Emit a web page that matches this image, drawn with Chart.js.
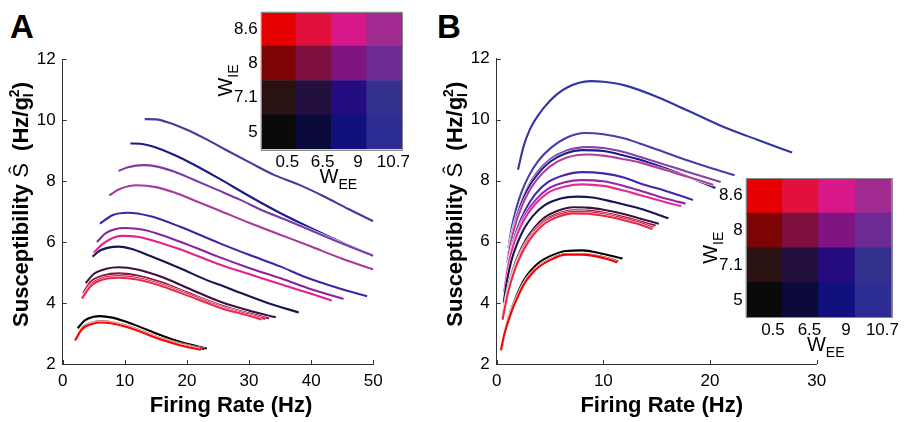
<!DOCTYPE html>
<html>
<head>
<meta charset="utf-8">
<script src="https://cdn.jsdelivr.net/npm/chart.js@4.4.1/dist/chart.umd.min.js"></script>
<style>
  body { margin: 0; background: #fff; width: 907px; height: 422px; position: relative; overflow: hidden;
         font-family: "Liberation Sans", Arial, sans-serif; }
  canvas { position: absolute; }
  .panel { position: absolute; font-weight: bold; font-size: 33px; line-height: 1; }
</style>
</head>
<body>
<div class="panel" style="left:10px;top:10px">A</div>
<div class="panel" style="left:437px;top:10px">B</div>
<canvas id="mainA" width="440" height="422" style="left:0;top:0"></canvas>
<canvas id="mainB" width="467" height="422" style="left:440px;top:0"></canvas>
<canvas id="insetA" width="222" height="205" style="left:200px;top:0"></canvas>
<canvas id="insetB" width="221" height="200" style="left:686px;top:167px"></canvas>
<script>
// ---- panel A : firing rate (Hz) vs susceptibility
const rateA = [
  [13.2, 15, 17, 20, 23, 26, 30, 34, 38, 42, 46, 50],
  [10.9, 12.5, 15, 18, 21, 25, 30.5, 35, 40, 45, 50],
  [9, 10.5, 13, 15, 18, 21, 25, 28.6, 32, 36, 40, 45, 50],
  [7.5, 9, 12, 15, 18, 21, 25, 30, 35, 40, 45, 50],
  [6.0, 8, 10.5, 14, 18.9, 25, 30, 35, 38.8, 45, 49],
  [5.5, 7, 10, 13, 18.9, 25, 30, 35.1, 40, 45.2],
  [5.0, 6.5, 9.5, 12, 15, 18.9, 25, 30, 35, 40, 43.3],
  [4.8, 6, 9, 11, 14, 18.9, 23.2, 25.4, 28, 33, 38],
  [3.7, 5, 7, 9, 12, 16, 20, 25.4, 30, 34.3],
  [3.3, 4.5, 6.5, 9, 12, 16, 20, 25.4, 30, 33.2],
  [3.2, 4.5, 6.5, 9, 12, 16, 20, 25.4, 30, 32.6],
  [3.1, 4.5, 6.5, 9, 12, 16, 20, 25.4, 30, 32],
  [2.4, 3.5, 5, 6, 8, 10, 12, 15.7, 19, 23.2],
  [2.1, 3.2, 4.8, 6.2, 8, 10, 12, 15.7, 19, 22.8],
  [2.0, 3.2, 4.8, 6.3, 8, 10, 12, 15.7, 19, 22.3],
  [2.0, 3.1, 4.7, 6.3, 8, 10, 12, 15.7, 19, 22.1]
];
const suscA = [
  [10.03, 10.02, 9.92, 9.68, 9.38, 9.05, 8.62, 8.2, 7.88, 7.5, 7.08, 6.68],
  [9.23, 9.22, 9.1, 8.85, 8.55, 8.1, 7.45, 6.95, 6.45, 5.98, 5.55],
  [8.33, 8.45, 8.52, 8.48, 8.3, 8.05, 7.7, 7.38, 7.05, 6.72, 6.38, 5.95, 5.55],
  [7.53, 7.72, 7.86, 7.8, 7.62, 7.38, 7.05, 6.63, 6.24, 5.85, 5.45, 5.1],
  [6.6, 6.88, 6.96, 6.85, 6.5, 5.98, 5.58, 5.2, 4.87, 4.45, 4.22],
  [6.0, 6.3, 6.46, 6.4, 6.01, 5.52, 5.15, 4.81, 4.45, 4.13],
  [5.65, 5.95, 6.2, 6.17, 6.02, 5.76, 5.28, 4.95, 4.62, 4.3, 4.08],
  [5.52, 5.72, 5.85, 5.78, 5.55, 5.14, 4.75, 4.59, 4.38, 4.0, 3.69],
  [4.65, 4.95, 5.12, 5.17, 5.1, 4.85, 4.5, 4.04, 3.75, 3.53],
  [4.32, 4.7, 4.9, 4.97, 4.9, 4.67, 4.35, 3.93, 3.66, 3.5],
  [4.2, 4.6, 4.82, 4.88, 4.82, 4.6, 4.3, 3.88, 3.62, 3.48],
  [4.15, 4.55, 4.77, 4.83, 4.77, 4.55, 4.25, 3.84, 3.58, 3.46],
  [3.17, 3.42, 3.55, 3.57, 3.52, 3.4, 3.25, 2.95, 2.72, 2.51],
  [2.85, 3.2, 3.36, 3.4, 3.37, 3.27, 3.14, 2.85, 2.66, 2.49],
  [2.8, 3.17, 3.34, 3.38, 3.35, 3.25, 3.12, 2.83, 2.63, 2.48],
  [2.77, 3.14, 3.31, 3.36, 3.33, 3.23, 3.1, 2.81, 2.61, 2.47]
];
const colorA = ["#4838a0", "#1c1a8a", "#7a3aa8", "#a8389a", "#4422a8", "#8a22a0", "#e8208c", "#161650",
                "#40103c", "#8a1840", "#d81850", "#ee2a48", "#000000", "#5a0808", "#c00000", "#ff0000"];

// ---- panel B
const rateB = [
  [2.0, 2.5, 3.1, 3.8, 5, 6.6, 8.8, 10, 12, 15, 18, 21, 24.5, 27.7],
  [1.1, 1.4, 1.8, 2.3, 3, 3.9, 5, 6.5, 8.3, 10, 12, 13.4, 16, 18, 20, 22.3],
  [1.0, 1.3, 1.7, 2.2, 2.9, 3.8, 5, 6.5, 8.5, 10, 12, 13.4, 16, 18, 21],
  [1.0, 1.3, 1.7, 2.2, 2.9, 3.8, 5, 6.5, 8, 10, 12, 13.4, 16, 18, 20.5],
  [1.0, 1.3, 1.7, 2.2, 2.9, 3.8, 5, 6.5, 8.5, 10, 12, 13.4, 16, 18, 20.3],
  [0.8, 1.1, 1.5, 2.0, 2.7, 3.6, 4.8, 6.3, 8, 10, 12, 13.4, 16, 18.4],
  [0.75, 1.05, 1.45, 2.0, 2.7, 3.6, 4.8, 6.3, 8, 10, 12, 13.4, 16, 17.7],
  [0.7, 1.0, 1.4, 1.95, 2.7, 3.6, 4.8, 6.3, 8, 10, 12, 13.4, 16, 17.3],
  [0.65, 0.95, 1.35, 1.9, 2.6, 3.4, 4.5, 6, 7.5, 9, 11, 13.4, 16.1],
  [0.55, 0.8, 1.1, 1.5, 2, 2.7, 3.5, 4.5, 5.6, 7.2, 8.5, 10, 12, 13.4, 15.2],
  [0.55, 0.8, 1.1, 1.5, 2, 2.7, 3.5, 4.5, 5.6, 7.2, 8.5, 10, 12, 13.4, 14.9],
  [0.55, 0.8, 1.1, 1.5, 2, 2.7, 3.5, 4.5, 5.6, 7.2, 8.5, 10, 12, 13.4, 14.7],
  [0.55, 0.8, 1.1, 1.5, 2, 2.7, 3.5, 4.5, 5.6, 7.2, 8.5, 10, 12, 13.4, 14.6],
  [0.55, 0.8, 1.0, 1.25, 1.6, 2.0, 2.5, 3.2, 4, 5, 6.5, 8, 10, 11.8],
  [0.45, 0.7, 0.95, 1.2, 1.55, 2.0, 2.5, 3.2, 4, 5, 6.5, 8, 10, 11.4],
  [0.4, 0.65, 0.9, 1.2, 1.55, 2.0, 2.5, 3.2, 4, 5, 6.5, 8, 10, 11.3]
];
const suscB = [
  [8.36, 9.1, 9.67, 10.1, 10.62, 11.05, 11.26, 11.24, 11.12, 10.75, 10.28, 9.8, 9.33, 8.92],
  [5.8, 6.45, 7.05, 7.6, 8.15, 8.65, 9.05, 9.4, 9.56, 9.52, 9.38, 9.22, 8.9, 8.65, 8.42, 8.18],
  [5.4, 6.05, 6.65, 7.2, 7.78, 8.28, 8.7, 8.98, 9.1, 9.07, 8.93, 8.78, 8.5, 8.28, 7.96],
  [5.35, 6.0, 6.6, 7.15, 7.72, 8.2, 8.62, 8.9, 9.0, 8.97, 8.82, 8.69, 8.38, 8.12, 7.76],
  [5.3, 5.92, 6.5, 7.03, 7.57, 8.05, 8.47, 8.75, 8.86, 8.82, 8.7, 8.6, 8.33, 8.12, 7.86],
  [4.6, 5.3, 5.95, 6.5, 7.05, 7.55, 7.95, 8.18, 8.28, 8.24, 8.1, 7.92, 7.65, 7.37],
  [4.45, 5.15, 5.8, 6.37, 6.9, 7.35, 7.73, 7.94, 8.02, 7.98, 7.82, 7.68, 7.4, 7.25],
  [4.35, 5.05, 5.7, 6.27, 6.8, 7.23, 7.6, 7.8, 7.88, 7.83, 7.67, 7.53, 7.28, 7.17],
  [4.0, 4.7, 5.35, 5.92, 6.45, 6.85, 7.2, 7.42, 7.48, 7.45, 7.3, 7.09, 6.77],
  [3.55, 4.05, 4.55, 5.07, 5.55, 6.05, 6.45, 6.8, 7.0, 7.13, 7.12, 7.05, 6.9, 6.76, 6.59],
  [3.5, 3.98, 4.47, 4.98, 5.45, 5.95, 6.35, 6.7, 6.9, 7.03, 7.02, 6.95, 6.8, 6.67, 6.53],
  [3.47, 3.94, 4.42, 4.92, 5.4, 5.9, 6.3, 6.65, 6.85, 6.98, 6.97, 6.9, 6.75, 6.62, 6.47],
  [3.45, 3.91, 4.39, 4.88, 5.36, 5.85, 6.25, 6.6, 6.8, 6.93, 6.92, 6.85, 6.7, 6.57, 6.42],
  [2.68, 3.1, 3.38, 3.66, 4.0, 4.35, 4.72, 5.06, 5.33, 5.53, 5.7, 5.72, 5.6, 5.45],
  [2.5, 2.95, 3.28, 3.55, 3.9, 4.26, 4.62, 4.96, 5.22, 5.43, 5.6, 5.6, 5.5, 5.36],
  [2.45, 2.88, 3.2, 3.52, 3.86, 4.22, 4.58, 4.92, 5.19, 5.4, 5.58, 5.58, 5.47, 5.33]
];
const colorB = ["#3434a4", "#4a3caa", "#8442aa", "#1c1c8c", "#b23e9a", "#4626aa", "#9228a8", "#e82a92",
                "#161652", "#3c1038", "#8c1a44", "#d81a4c", "#f0243c", "#000000", "#7a0000", "#f00000"];

// ---- inset colour key (rows: W_IE bottom to top, columns: W_EE)
const weeTicks = ["0.5", "6.5", "9", "10.7"];
const wieTicks = ["5", "7.1", "8", "8.6"];
const cellColors = [
  ["#0a0a0a", "#0c0a3a", "#12107e", "#2c2c92"],
  ["#2a1212", "#24103e", "#240c80", "#34308e"],
  ["#7c0404", "#7e1040", "#801480", "#6c2a92"],
  ["#e60000", "#e2103c", "#d8188a", "#a02a90"]
];

const FAM = "'Liberation Sans', Arial, sans-serif";
const tickFont = { family: FAM, size: 17 };

// white halo under each curve; dataset 0 is drawn last, so list the curves back to front
function curveSets(rates, sus, colors) {
  const sets = [];
  for (let i = rates.length - 1; i >= 0; i--) {
    const pts = rates[i].map((x, j) => ({ x: x, y: sus[i][j] }));
    const base = { data: pts, pointRadius: 0, fill: false, cubicInterpolationMode: "monotone" };
    sets.push(Object.assign({ borderColor: colors[i], borderWidth: 2.1 }, base));
    sets.push(Object.assign({ borderColor: "#ffffff", borderWidth: 3.0 }, base));
  }
  return sets;
}

// draw a run of text pieces; pieces can carry sub / sup
function richText(ctx, pieces, x0, y0, rotate, center) {
  ctx.save();
  ctx.translate(x0, y0);
  if (rotate) ctx.rotate(-Math.PI / 2);
  ctx.fillStyle = "#000";
  ctx.textBaseline = "alphabetic";
  ctx.textAlign = "left";
  let total = 0;
  pieces.forEach(p => {
    ctx.font = p.font;
    p.w = Math.max(ctx.measureText(p.t || "").width, p.sup ? ctx.measureText(p.sup).width : 0);
    total += p.w;
  });
  let cx = center ? -total / 2 : 0;
  pieces.forEach(p => {
    ctx.font = p.font;
    if (p.t) ctx.fillText(p.t, cx, p.dy || 0);
    if (p.sup) ctx.fillText(p.sup, cx, p.supDy);
    cx += p.w;
  });
  ctx.restore();
}

const mainDecor = {
  id: "mainDecor",
  afterDraw(chart, args, o) {
    const { ctx, chartArea: a, scales: { x, y } } = chart;
    ctx.save();
    ctx.strokeStyle = "#333";
    ctx.lineWidth = 1;
    ctx.beginPath();
    x.ticks.forEach(t => {
      const px = Math.round(x.getPixelForValue(t.value)) + 0.5;
      ctx.moveTo(px, a.bottom); ctx.lineTo(px, a.bottom - 4);
    });
    y.ticks.forEach(t => {
      const py = Math.round(y.getPixelForValue(t.value)) + 0.5;
      ctx.moveTo(a.left, py); ctx.lineTo(a.left + 4, py);
    });
    ctx.stroke();
    ctx.restore();
    const big = "bold 22px " + FAM, small = "bold 14px " + FAM;
    richText(ctx, [{ t: "Firing Rate (Hz)", font: big }], (a.left + a.right) / 2 + o.xDx, 412, false, true);
    richText(ctx, [
      { t: "Susceptibility ", font: big },
      { t: "\u015C", font: "22px " + FAM },
      { t: "  (Hz/g", font: big },
      { t: "I", font: small, dy: 5, sup: "2", supDy: -9 },
      { t: ")", font: big }
    ], a.left - 34.7, (a.top + a.bottom) / 2 - 7, true, true);
  }
};

function mainChart(id, rates, sus, colors, xMax, area, xDx) {
  const cv = document.getElementById(id);
  return new Chart(cv, {
    type: "line",
    data: { datasets: curveSets(rates, sus, colors) },
    options: {
      responsive: false,
      animation: false,
      devicePixelRatio: 1,
      layout: { padding: { left: 0, top: area.top, right: cv.width - area.right, bottom: 0 } },
      plugins: { legend: { display: false }, tooltip: { enabled: false }, mainDecor: { xDx: xDx } },
      scales: {
        x: {
          type: "linear", min: 0, max: xMax,
          ticks: { stepSize: 10, font: tickFont, color: "#000", padding: 7, maxRotation: 0 },
          grid: { display: false, drawTicks: false },
          border: { color: "#333", width: 1 },
          afterFit(s) { s.height = cv.height - area.bottom; s.paddingLeft = 0; s.paddingRight = 0; }
        },
        y: {
          min: 2, max: 12,
          ticks: { stepSize: 2, font: tickFont, color: "#000", padding: 7 },
          grid: { display: false, drawTicks: false },
          border: { color: "#333", width: 1 },
          afterFit(s) { s.width = area.left; s.paddingTop = 0; s.paddingBottom = 0; }
        }
      }
    },
    plugins: [mainDecor]
  });
}

const insetDecor = {
  id: "insetDecor",
  afterDraw(chart) {
    const { ctx, chartArea: a } = chart;
    ctx.save();
    ctx.strokeStyle = "#8a8a8a";
    ctx.lineWidth = 1;
    ctx.strokeRect(Math.round(a.left) + 0.5, Math.round(a.top) + 0.5, Math.round(a.right - a.left), Math.round(a.bottom - a.top));
    ctx.restore();
    const w = "20px " + FAM, s = "14px " + FAM;
    richText(ctx, [{ t: "W", font: w }, { t: "IE", font: s, dy: 6 }], a.left - 28.5, (a.top + a.bottom) / 2, true, true);
    richText(ctx, [{ t: "W", font: w }, { t: "EE", font: s, dy: 6 }], (a.left + a.right) / 2 + 7, a.bottom + 34, false, true);
  }
};

function insetChart(id, area) {
  const cv = document.getElementById(id);
  const datasets = wieTicks.map((lab, r) => ({
    data: weeTicks.map(() => [r, r + 1]),
    backgroundColor: cellColors[r],
    borderWidth: 0,
    barPercentage: 1,
    categoryPercentage: 1,
    grouped: false
  }));
  return new Chart(cv, {
    type: "bar",
    data: { labels: weeTicks, datasets: datasets },
    options: {
      responsive: false,
      animation: false,
      devicePixelRatio: 1,
      layout: { padding: { left: 0, top: area.top, right: cv.width - area.right, bottom: 0 } },
      plugins: { legend: { display: false }, tooltip: { enabled: false } },
      scales: {
        x: {
          ticks: { font: tickFont, color: "#000", padding: 3, labelOffset: 9, maxRotation: 0, autoSkip: false },
          grid: { display: false, drawTicks: false },
          border: { display: false },
          afterFit(s) { s.height = cv.height - area.bottom; s.paddingLeft = 0; s.paddingRight = 0; }
        },
        y: {
          type: "linear", min: 0, max: 4,
          afterBuildTicks(s) { s.ticks = wieTicks.map((_, i) => ({ value: i + 0.5 })); },
          ticks: { font: tickFont, color: "#000", padding: 3, autoSkip: false, callback: (v) => wieTicks[Math.floor(v)] },
          grid: { display: false, drawTicks: false },
          border: { display: false },
          afterFit(s) { s.width = area.left; s.paddingTop = 0; s.paddingBottom = 0; }
        }
      }
    },
    plugins: [insetDecor]
  });
}

mainChart("mainA", rateA, suscA, colorA, 50, { left: 62.7, top: 59, right: 373.3, bottom: 364 }, 13);
mainChart("mainB", rateB, suscB, colorB, 30, { left: 56.7, top: 58.5, right: 376.7, bottom: 364 }, 5);
insetChart("insetA", { left: 60.7, top: 11.7, right: 202, bottom: 149.3 });
insetChart("insetB", { left: 59.7, top: 11.3, right: 205.7, bottom: 150.3 });
</script>
</body>
</html>
